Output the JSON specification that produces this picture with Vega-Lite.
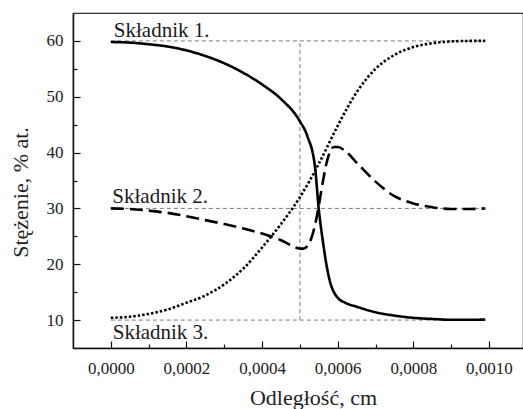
{
  "$schema": "https://vega.github.io/schema/vega-lite/v6.json",
  "width": 450,
  "height": 335,
  "autosize": {"type": "none"},
  "padding": {"left": 73, "top": 13, "right": 0, "bottom": 61},
  "background": "white",
  "config": {
    "view": {"stroke": "#333", "strokeWidth": 1.2},
    "font": "Liberation Serif",
    "axis": {
      "grid": false,
      "domainColor": "#111",
      "domainWidth": 1.5,
      "tickColor": "#111",
      "tickWidth": 1.2,
      "labelFont": "Liberation Serif",
      "labelFontSize": 17,
      "labelColor": "#222",
      "titleFont": "Liberation Serif",
      "titleFontSize": 22,
      "titleFontWeight": "normal",
      "titleColor": "#222"
    }
  },
  "datasets": {
    "refs": [
      {"x": 0, "x2": 0.001, "y": 60, "y2": 60},
      {"x": 0, "x2": 0.001, "y": 30, "y2": 30},
      {"x": 0, "x2": 0.001, "y": 10, "y2": 10},
      {"x": 0.0005, "x2": 0.0005, "y": 10, "y2": 60}
    ],
    "curves": [
      {"s": "1", "x": 0, "y": 59.8},
      {"s": "1", "x": 0.00005, "y": 59.7},
      {"s": "1", "x": 0.0001, "y": 59.4},
      {"s": "1", "x": 0.00015, "y": 59.0},
      {"s": "1", "x": 0.0002, "y": 58.3},
      {"s": "1", "x": 0.00025, "y": 57.3},
      {"s": "1", "x": 0.0003, "y": 56.0},
      {"s": "1", "x": 0.00035, "y": 54.3},
      {"s": "1", "x": 0.0004, "y": 52.2},
      {"s": "1", "x": 0.00045, "y": 49.6},
      {"s": "1", "x": 0.0005, "y": 45.6},
      {"s": "1", "x": 0.00052, "y": 42.9},
      {"s": "1", "x": 0.00054, "y": 37.4},
      {"s": "1", "x": 0.00055, "y": 29.8},
      {"s": "1", "x": 0.00056, "y": 24.5},
      {"s": "1", "x": 0.00057, "y": 20.0},
      {"s": "1", "x": 0.00058, "y": 16.8},
      {"s": "1", "x": 0.00059, "y": 15.0},
      {"s": "1", "x": 0.0006, "y": 14.0},
      {"s": "1", "x": 0.00062, "y": 13.1},
      {"s": "1", "x": 0.00065, "y": 12.4},
      {"s": "1", "x": 0.0007, "y": 11.4},
      {"s": "1", "x": 0.00075, "y": 10.8},
      {"s": "1", "x": 0.0008, "y": 10.4},
      {"s": "1", "x": 0.00085, "y": 10.2},
      {"s": "1", "x": 0.0009, "y": 10.05},
      {"s": "1", "x": 0.00095, "y": 10.05},
      {"s": "1", "x": 0.00099, "y": 10.1},
      {"s": "2", "x": 0, "y": 30.0},
      {"s": "2", "x": 0.00005, "y": 29.9},
      {"s": "2", "x": 0.0001, "y": 29.6},
      {"s": "2", "x": 0.00015, "y": 29.2},
      {"s": "2", "x": 0.0002, "y": 28.6},
      {"s": "2", "x": 0.00025, "y": 27.9},
      {"s": "2", "x": 0.0003, "y": 27.2},
      {"s": "2", "x": 0.00035, "y": 26.4},
      {"s": "2", "x": 0.0004, "y": 25.5},
      {"s": "2", "x": 0.00045, "y": 24.3},
      {"s": "2", "x": 0.00048, "y": 23.3},
      {"s": "2", "x": 0.0005, "y": 22.8},
      {"s": "2", "x": 0.00051, "y": 22.8},
      {"s": "2", "x": 0.00052, "y": 23.3},
      {"s": "2", "x": 0.00053, "y": 24.6},
      {"s": "2", "x": 0.00054, "y": 27.0},
      {"s": "2", "x": 0.00055, "y": 30.5},
      {"s": "2", "x": 0.00056, "y": 34.5},
      {"s": "2", "x": 0.00057, "y": 38.0},
      {"s": "2", "x": 0.00058, "y": 40.2},
      {"s": "2", "x": 0.00059, "y": 41.0},
      {"s": "2", "x": 0.0006, "y": 41.0},
      {"s": "2", "x": 0.00062, "y": 40.3},
      {"s": "2", "x": 0.00065, "y": 38.2},
      {"s": "2", "x": 0.0007, "y": 34.8},
      {"s": "2", "x": 0.00075, "y": 32.2},
      {"s": "2", "x": 0.0008, "y": 30.9},
      {"s": "2", "x": 0.00085, "y": 30.2},
      {"s": "2", "x": 0.0009, "y": 29.9},
      {"s": "2", "x": 0.00095, "y": 29.9},
      {"s": "2", "x": 0.00099, "y": 30.0},
      {"s": "3", "x": 0, "y": 10.4},
      {"s": "3", "x": 0.00005, "y": 10.6},
      {"s": "3", "x": 0.0001, "y": 11.1},
      {"s": "3", "x": 0.00015, "y": 11.9},
      {"s": "3", "x": 0.0002, "y": 13.1},
      {"s": "3", "x": 0.00025, "y": 14.4},
      {"s": "3", "x": 0.0003, "y": 16.4},
      {"s": "3", "x": 0.00035, "y": 19.2},
      {"s": "3", "x": 0.0004, "y": 23.0},
      {"s": "3", "x": 0.00045, "y": 27.2},
      {"s": "3", "x": 0.0005, "y": 32.0},
      {"s": "3", "x": 0.00055, "y": 38.0},
      {"s": "3", "x": 0.0006, "y": 44.8},
      {"s": "3", "x": 0.00065, "y": 50.8},
      {"s": "3", "x": 0.0007, "y": 55.0},
      {"s": "3", "x": 0.00075, "y": 57.5},
      {"s": "3", "x": 0.0008, "y": 58.9},
      {"s": "3", "x": 0.00085, "y": 59.6},
      {"s": "3", "x": 0.0009, "y": 59.9},
      {"s": "3", "x": 0.00095, "y": 60.0},
      {"s": "3", "x": 0.00099, "y": 60.0}
    ],
    "labels": [
      {"label": "Składnik 1.", "x": 0.000008, "y": 60.7},
      {"label": "Składnik 2.", "x": 0.000004, "y": 31.0},
      {"label": "Składnik 3.", "x": 0.000005, "y": 6.56}
    ]
  },
  "encoding": {
    "x": {
      "field": "x",
      "type": "quantitative",
      "title": "Odległość, cm",
      "scale": {"domain": [-0.0001, 0.00109], "nice": false, "zero": false},
      "axis": {
        "values": [0, 0.0001, 0.0002, 0.0003, 0.0004, 0.0005, 0.0006, 0.0007, 0.0008, 0.0009, 0.001],
        "labelExpr": "round(datum.value * 10000) % 2 === 0 ? replace(format(datum.value, '.4f'), '.', ',') : ''",
        "tickSize": {"condition": {"test": "round(datum.value * 10000) % 2 === 0", "value": -7}, "value": -4},
        "labelPadding": 19,
        "titleX": 240,
        "titleY": 56,
        "titleAlign": "center",
        "titleBaseline": "alphabetic",
        "titleFontSize": 22
      }
    },
    "y": {
      "field": "y",
      "type": "quantitative",
      "title": "Stężenie, % at.",
      "scale": {"domain": [5, 65], "nice": false, "zero": false},
      "axis": {
        "values": [10, 15, 20, 25, 30, 35, 40, 45, 50, 55, 60],
        "labelExpr": "datum.value % 10 === 0 ? datum.label : ''",
        "tickSize": {"condition": {"test": "datum.value % 10 === 0", "value": -7}, "value": -4},
        "labelPadding": 17,
        "titleX": -46,
        "titleY": 179,
        "titleAngle": -90,
        "titleAlign": "center",
        "titleBaseline": "alphabetic",
        "titleFontSize": 22
      }
    }
  },
  "layer": [
    {
      "data": {"name": "refs"},
      "mark": {"type": "rule", "color": "#7a7a7a", "strokeWidth": 1, "strokeDash": [4, 3]},
      "encoding": {
        "x2": {"field": "x2"},
        "y2": {"field": "y2"}
      }
    },
    {
      "data": {"name": "curves"},
      "mark": {"type": "line", "strokeWidth": 2.6, "interpolate": "monotone", "color": "#000"},
      "encoding": {
        "detail": {"field": "s", "type": "nominal"},
        "strokeDash": {
          "field": "s",
          "type": "nominal",
          "scale": {"domain": ["1", "2", "3"], "range": [[1, 0], [13, 6], [2.5, 2]]},
          "legend": null
        }
      }
    },
    {
      "data": {"name": "labels"},
      "mark": {"type": "text", "align": "left", "baseline": "alphabetic", "font": "Liberation Serif", "fontSize": 21, "color": "#1a1a1a"},
      "encoding": {
        "text": {"field": "label", "type": "nominal"}
      }
    }
  ]
}
